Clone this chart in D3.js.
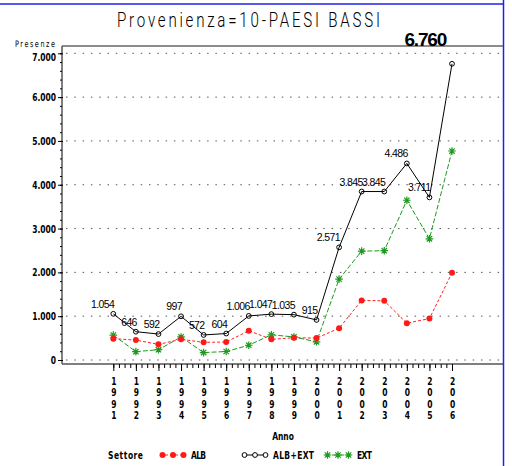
<!DOCTYPE html>
<html>
<head>
<meta charset="utf-8">
<script src="https://cdn.jsdelivr.net/npm/d3@7"></script>
<style>
  body { margin: 0; background: #fff; }
  svg { display: block; }
  .sas { font-family: "DejaVu Sans", sans-serif; fill: #000; }
  .lbl { font-family: "Liberation Sans", Arial, sans-serif; font-size: 10.5px; letter-spacing: -0.6px; fill: #000; }
</style>
</head>
<body>
<div id="viz"></div>
<script>
var years = [1991, 1992, 1993, 1994, 1995, 1996, 1997, 1998, 1999, 2000, 2001, 2002, 2003, 2004, 2005, 2006];
var albExt = [1054, 646, 592, 997, 572, 604, 1006, 1047, 1035, 915, 2571, 3845, 3845, 4486, 3711, 6760];
var alb = [486, 455, 357, 471, 403, 410, 669, 471, 509, 500, 725, 1360, 1350, 840, 945, 1990];
var ext = [568, 191, 235, 526, 169, 194, 337, 576, 526, 415, 1846, 2485, 2495, 3646, 2766, 4770];
var yTicks = [0, 1000, 2000, 3000, 4000, 5000, 6000, 7000];

var width = 512, height = 466;
var pLeft = 62, pTop = 46, pBottom = 364, pRight = 503;
var squeeze = 0.72;

var x = d3.scaleLinear().domain([1991, 2006]).range([113.3, 452]);
var y = d3.scaleLinear().domain([0, 7000]).range([360, 53.3]);

var fmt = function(d) { return d3.format(",")(d).replace(/,/g, "."); };

var svg = d3.select('#viz').append('svg')
  .attr('width', width)
  .attr('height', height);

// narrow "SAS" style text
function sasText(parent, tx, ty, str, size, anchor, len) {
  var t = parent.append('g')
    .attr('transform', 'translate(' + tx + ',' + ty + ') scale(' + squeeze + ',1)')
    .append('text').attr('class', 'sas')
    .style('font-size', size + 'px')
    .attr('text-anchor', anchor || 'start')
    .text(str);
  if (len) t.attr('textLength', len / squeeze).attr('lengthAdjust', 'spacing');
  return t;
}

// blue border
svg.append('line').attr('x1', 0).attr('x2', 504).attr('y1', 4).attr('y2', 4)
  .attr('stroke', '#2020e8').attr('stroke-width', 1.5);
svg.append('line').attr('x1', 503.5).attr('x2', 503.5).attr('y1', 0).attr('y2', height)
  .attr('stroke', '#2020e8').attr('stroke-width', 1.5);

// title
sasText(svg, 117, 27, 'Provenienza=10-PAESI BASSI', 21, 'start', 263)
  .style('font-family', 'Roboto, "DejaVu Sans", sans-serif')
  .style('font-weight', 300);

// grid
svg.append('g').selectAll('line').data(yTicks)
  .enter().append('line')
    .attr('x1', pLeft + 4).attr('x2', pRight)
    .attr('y1', function(d) { return y(d); })
    .attr('y2', function(d) { return y(d); })
    .attr('stroke', '#555')
    .attr('stroke-dasharray', '1.5,6.8');

// frame
svg.append('line').attr('x1', pLeft).attr('x2', pRight).attr('y1', pTop).attr('y2', pTop)
  .attr('stroke', '#666').attr('stroke-width', 1.5);
svg.append('line').attr('x1', pLeft).attr('x2', pRight).attr('y1', pBottom).attr('y2', pBottom)
  .attr('stroke', '#555').attr('stroke-width', 1.5);
svg.append('line').attr('x1', pLeft).attr('x2', pLeft).attr('y1', pTop).attr('y2', pBottom)
  .attr('stroke', '#555').attr('stroke-width', 1.5);

// y axis
var minorY = d3.range(0, 7001, 200);
var yMinor = svg.append('g').attr('transform', 'translate(' + pLeft + ',0)')
  .call(d3.axisLeft(y).tickValues(minorY).tickSize(2).tickFormat(''));
yMinor.select('.domain').remove();
var yAxis = svg.append('g').attr('transform', 'translate(' + pLeft + ',0)')
  .call(d3.axisLeft(y).tickValues(yTicks).tickSize(4).tickFormat(''));
yAxis.select('.domain').remove();
yAxis.selectAll('line').attr('x2', -4).attr('x1', 1);
yAxis.selectAll('.tick').each(function(d) {
  sasText(d3.select(this), -6, d === 7000 ? 7 : 3.6, fmt(d), 10.5, 'end')
    .style('font-weight', 'bold');
});

sasText(svg, 15, 46.5, 'Presenze', 9, 'start', 40);

// x axis
var minorX = d3.range(1991, 2006.01, 0.25);
var xMinor = svg.append('g').attr('transform', 'translate(0,' + pBottom + ')')
  .call(d3.axisBottom(x).tickValues(minorX).tickSize(4).tickFormat(''));
xMinor.select('.domain').remove();
var xAxis = svg.append('g').attr('transform', 'translate(0,' + pBottom + ')')
  .call(d3.axisBottom(x).tickValues(years).tickSize(7).tickFormat(''));
xAxis.select('.domain').remove();
xAxis.selectAll('.tick').each(function(d) {
  var g = d3.select(this);
  String(d).split('').forEach(function(ch, i) {
    sasText(g, 0, 21 + i * 11.3, ch, 10.5, 'middle').style('font-weight', 'bold');
  });
});

sasText(svg, 283, 440, 'Anno', 10.5, 'middle').style('font-weight', 'bold');

// lines
var line = function(vals) {
  return d3.line()
    .x(function(d, i) { return x(years[i]); })
    .y(function(d) { return y(d); })(vals);
};

svg.append('path').attr('d', line(alb))
  .attr('fill', 'none').attr('stroke', '#ff2020').attr('stroke-width', 1)
  .attr('stroke-dasharray', '3,2');
svg.append('path').attr('d', line(ext))
  .attr('fill', 'none').attr('stroke', '#1f9a1f').attr('stroke-width', 1)
  .attr('stroke-dasharray', '5,2');
svg.append('path').attr('d', line(albExt))
  .attr('fill', 'none').attr('stroke', '#000').attr('stroke-width', 1);

var star = function(g, cx, cy) {
  var s = 3.8, d = 2.7;
  g.append('path')
    .attr('d', 'M' + (cx - s) + ',' + cy + 'H' + (cx + s) +
      'M' + cx + ',' + (cy - s) + 'V' + (cy + s) +
      'M' + (cx - d) + ',' + (cy - d) + 'L' + (cx + d) + ',' + (cy + d) +
      'M' + (cx - d) + ',' + (cy + d) + 'L' + (cx + d) + ',' + (cy - d))
    .attr('stroke', '#1f9a1f').attr('stroke-width', 1.2);
};

var gExt = svg.append('g');
ext.forEach(function(v, i) { star(gExt, x(years[i]), y(v)); });

svg.append('g').selectAll('circle').data(alb)
  .enter().append('circle')
    .attr('cx', function(d, i) { return x(years[i]); })
    .attr('cy', function(d) { return y(d); })
    .attr('r', 3)
    .attr('fill', '#ff1a1a');

svg.append('g').selectAll('circle').data(albExt)
  .enter().append('circle')
    .attr('cx', function(d, i) { return x(years[i]); })
    .attr('cy', function(d) { return y(d); })
    .attr('r', 2.4)
    .attr('fill', 'none')
    .attr('stroke', '#000')
    .attr('stroke-width', 1);

// value labels
var last = albExt.length - 1;
svg.append('g').selectAll('text').data(albExt.slice(0, last))
  .enter().append('text')
    .attr('class', 'lbl')
    .attr('text-anchor', 'end')
    .attr('x', function(d, i) { return x(years[i]) + 1; })
    .attr('y', function(d) { return y(d) - 6; })
    .text(fmt);

svg.append('text')
  .attr('x', x(years[last]) - 6)
  .attr('y', y(7000) - 7)
  .attr('text-anchor', 'end')
  .style('font-family', '"Liberation Sans", Arial, sans-serif')
  .style('font-weight', 'bold')
  .style('font-size', '19px')
  .style('letter-spacing', '-1.2px')
  .text(fmt(albExt[last]));

// legend
var ly = 455;
sasText(svg, 108, ly + 3.5, 'Settore', 10.5, 'start', 35).style('font-weight', 'bold');

var legendItems = [
  { name: 'ALB', x0: 160, color: '#ff2020', dash: '3,2', type: 'dot', tx: 191, tl: 15 },
  { name: 'ALB+EXT', x0: 242, color: '#000', dash: null, type: 'circle', tx: 273, tl: 41 },
  { name: 'EXT', x0: 325, color: '#1f9a1f', dash: '5,2', type: 'star', tx: 357, tl: 15 }
];
legendItems.forEach(function(it) {
  svg.append('line').attr('x1', it.x0).attr('x2', it.x0 + 26)
    .attr('y1', ly).attr('y2', ly)
    .attr('stroke', it.color).attr('stroke-dasharray', it.dash);
  [2.5, 13, 23.5].forEach(function(off) {
    var cx = it.x0 + off;
    if (it.type === 'dot') {
      svg.append('circle').attr('cx', cx).attr('cy', ly).attr('r', 3).attr('fill', '#ff1a1a');
    } else if (it.type === 'circle') {
      svg.append('circle').attr('cx', cx).attr('cy', ly).attr('r', 2.4)
        .attr('fill', '#fff').attr('stroke', '#000');
    } else {
      star(svg, cx, ly);
    }
  });
  sasText(svg, it.tx, ly + 3.5, it.name, 10.5, 'start', it.tl).style('font-weight', 'bold');
});
</script>
</body>
</html>
